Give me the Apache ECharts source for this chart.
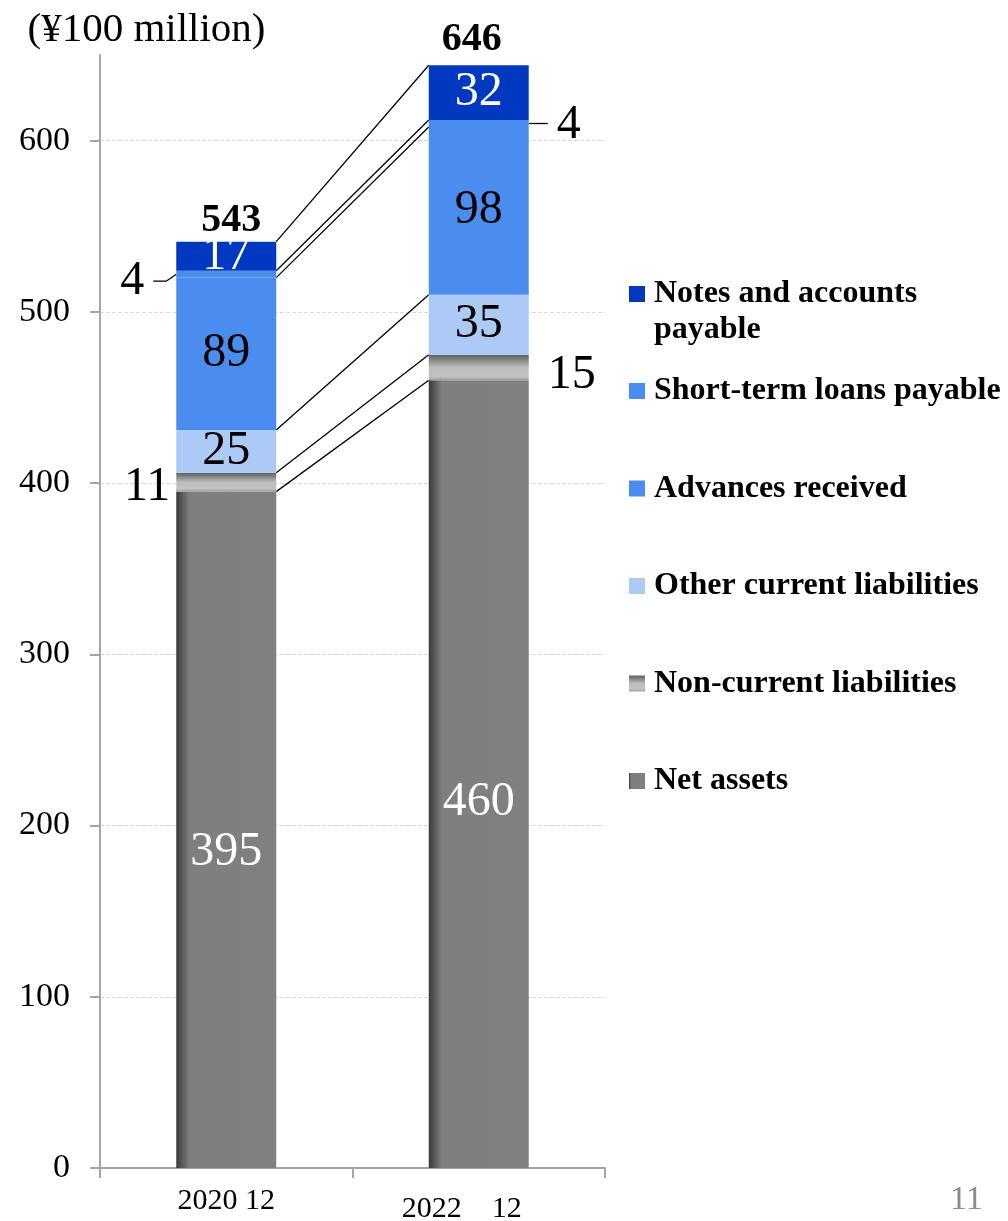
<!DOCTYPE html>
<html><head><meta charset="utf-8">
<script src="https://cdn.jsdelivr.net/npm/echarts@6/dist/echarts.min.js"></script>
<style>html,body{margin:0;padding:0;background:#fff}#chart{width:1008px;height:1221px}</style>
</head><body><div id="chart"></div>
<script>
// ---- data ----
const categories = ['2020 12', '2022    12'];
const netAssets = [395, 460];
const nonCurrent = [11, 15];
const otherCurrent = [25, 35];
const advances = [89, 98];
const shortTermLoans = [4, 4];
const notesPayable = [17, 32];
const totals = [543, 646];
const yTicks = [0, 100, 200, 300, 400, 500, 600];
const seriesNames = ['Net assets', 'Non-current liabilities', 'Other current liabilities',
  'Advances received', 'Short-term loans payable', 'Notes and accounts payable'];

// ---- styling ----
const FONT = '"Liberation Serif", "Times New Roman", serif';
const BAR_FRAC = 0.396;
const C_NOTES = '#0039BF';
const C_BLUE = '#4B8DEF';
const C_LIGHT = '#ADCAF7';
const G_NET = new echarts.graphic.LinearGradient(0, 0, 1, 0, [
  {offset: 0, color: '#3a3a3a'}, {offset: 0.13, color: '#7f7f7f'}, {offset: 1, color: '#808080'}]);
const G_NONCUR = new echarts.graphic.LinearGradient(0, 0, 0, 1, [
  {offset: 0, color: '#5e5e5e'}, {offset: 0.5, color: '#bdbdbd'}, {offset: 0.85, color: '#c2c2c2'}, {offset: 1, color: '#9a9a9a'}]);

const stackArrays = [netAssets, nonCurrent, otherCurrent, advances, shortTermLoans, notesPayable];
const colors = [G_NET, G_NONCUR, C_LIGHT, C_BLUE, C_BLUE, C_NOTES];
const labelColors = ['#fff', '#000', '#000', '#000', '#000', '#fff'];

const baseLabel = {show: true, fontFamily: FONT, fontSize: 48, position: 'inside'};

function itemsFor(idx) {
  const arr = stackArrays[idx];
  return arr.map((v, i) => {
    const item = {value: v};
    if (idx === 0) item.label = {offset: [0, i === 0 ? 23 : 28]};
    if (idx === 1) item.label = i === 0 ? {position: 'left', distance: 6, offset: [0, 5]}
                                        : {position: 'right', distance: 19, offset: [0, 8]};
    if (idx === 4) item.label = i === 0 ? {position: 'left', distance: 32, offset: [0, 7]}
                                        : {position: 'right', distance: 28, offset: [0, 2]};
    return item;
  });
}

const barSeries = stackArrays.map((arr, idx) => ({
  name: seriesNames[idx],
  type: 'bar',
  stack: 'total',
  barWidth: (BAR_FRAC * 100) + '%',
  itemStyle: {color: colors[idx]},
  label: Object.assign({}, baseLabel, {color: labelColors[idx]}),
  data: itemsFor(idx)
}));

// connector lines between stack boundaries
const connectorData = [];
{
  let c0 = 0, c1 = 0;
  stackArrays.forEach(a => { c0 += a[0]; c1 += a[1]; connectorData.push([0, c0, c1]); });
}
// leader lines for the small short-term loans segments
const leaderData = [0, 1].map(i => {
  const below = netAssets[i] + nonCurrent[i] + otherCurrent[i] + advances[i];
  return [i, below + shortTermLoans[i] / 2, i === 0 ? -1 : 1];
});

const legendText = {color: '#000', fontFamily: FONT, fontSize: 32, fontWeight: 'bold', lineHeight: 36};
const totalOffsets = [[5, 6], [-7, 2]];

const chart = echarts.init(document.getElementById('chart'));
chart.setOption({
  animation: false,
  grid: {left: 100, right: 403, top: 55, bottom: 53, containLabel: false, outerBoundsMode: 'none'},
  xAxis: {
    type: 'category',
    data: [categories[0], {value: categories[1], textStyle: {padding: [8, 34, 0, 0]}}],
    axisLine: {lineStyle: {color: '#a6a6a6', width: 2}},
    axisTick: {show: true, length: 10, alignWithLabel: false, lineStyle: {color: '#a6a6a6', width: 2}},
    axisLabel: {color: '#000', fontFamily: FONT, fontSize: 30, margin: 18}
  },
  yAxis: {
    type: 'value',
    min: 0, max: 650, interval: 100,
    name: '(¥100 million)',
    nameLocation: 'end',
    nameGap: 4,
    nameTextStyle: {color: '#000', fontFamily: FONT, fontSize: 41, align: 'center', padding: [0, 0, 0, 93]},
    axisLine: {show: true, lineStyle: {color: '#a6a6a6', width: 2}},
    axisTick: {show: true, length: 10, customValues: yTicks, lineStyle: {color: '#a6a6a6', width: 2}},
    axisLabel: {color: '#000', fontFamily: FONT, fontSize: 34, margin: 30, customValues: yTicks},
    splitLine: {show: true, lineStyle: {type: 'dashed', width: 1,
      color: ['#d9d9d9', '#d9d9d9', '#d9d9d9', '#d9d9d9', '#d9d9d9', '#d9d9d9', '#d9d9d9', 'rgba(0,0,0,0)']}}
  },
  legend: [
    {
      orient: 'vertical', left: 629, top: 240, padding: 0,
      itemWidth: 16, itemHeight: 16, icon: 'rect',
      data: [seriesNames[5]],
      formatter: () => '\nNotes and accounts\npayable',
      textStyle: Object.assign({padding: [0, 0, 0, 4]}, legendText)
    },
    {
      orient: 'vertical', left: 629, top: 373, padding: 0, itemGap: 61.5,
      itemWidth: 16, itemHeight: 16, icon: 'rect',
      data: [seriesNames[4], seriesNames[3], seriesNames[2], seriesNames[1], seriesNames[0]],
      textStyle: Object.assign({padding: [0, 0, 0, 4]}, legendText)
    }
  ],
  graphic: [{
    type: 'text', left: 950, top: 1183,
    style: {text: '11', fontFamily: FONT, fontSize: 34, fill: '#8c8c8c'}
  }],
  series: barSeries.concat([
    {
      name: 'totals', type: 'scatter', symbolSize: 0,
      data: totals.map((v, i) => ({value: v, label: {offset: totalOffsets[i]}})),
      itemStyle: {opacity: 1},
      label: {show: true, position: 'top', distance: 4, fontFamily: FONT, fontSize: 40, fontWeight: 'bold', color: '#000', opacity: 1}
    },
    {
      name: 'connectors', type: 'custom', data: connectorData, encode: {x: 0, y: [1, 2]},
      renderItem: (params, api) => {
        const half = api.size([1, 0])[0] * BAR_FRAC / 2;
        const p0 = api.coord([0, api.value(1)]);
        const p1 = api.coord([1, api.value(2)]);
        return {type: 'line', shape: {x1: p0[0] + half, y1: p0[1], x2: p1[0] - half, y2: p1[1]},
          style: {stroke: '#000', lineWidth: 1.3}};
      }
    },
    {
      name: 'leaders', type: 'custom', data: leaderData, encode: {x: 0, y: 1},
      renderItem: (params, api) => {
        const half = api.size([1, 0])[0] * BAR_FRAC / 2;
        const side = api.value(2);
        const p = api.coord([api.value(0), api.value(1)]);
        const edge = p[0] + side * half;
        const pts = side < 0
          ? [[edge, p[1]], [edge - 10, p[1] + 7], [edge - 23, p[1] + 7]]
          : [[edge, p[1]], [edge + 19, p[1]]];
        return {type: 'polyline', shape: {points: pts}, style: {stroke: '#000', lineWidth: 1.3, fill: null}};
      }
    }
  ])
});
</script></body></html>
